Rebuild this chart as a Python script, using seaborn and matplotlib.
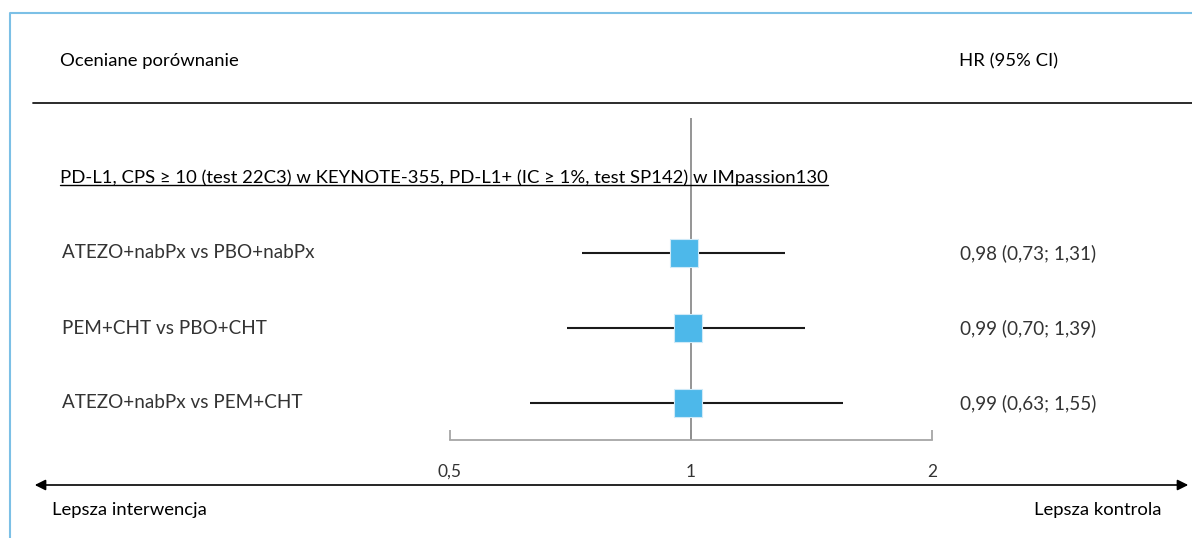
import matplotlib
matplotlib.use("Agg")
import matplotlib.pyplot as plt
import numpy as np
import pandas as pd
import seaborn as sns
from matplotlib.lines import Line2D
from matplotlib.patches import FancyArrowPatch
from matplotlib.ticker import FixedLocator, FixedFormatter, NullLocator

# data
comparisons = ["ATEZO+nabPx vs PBO+nabPx", "PEM+CHT vs PBO+CHT", "ATEZO+nabPx vs PEM+CHT"]
hr = [0.98, 0.99, 0.99]
ci_low = [0.73, 0.70, 0.63]
ci_high = [1.31, 1.39, 1.55]
subgroup = "PD-L1, CPS \u2265 10 (test 22C3) w KEYNOTE-355, PD-L1+ (IC \u2265 1%, test SP142) w IMpassion130"
ticks = [0.5, 1, 2]
tick_labels = ["0,5", "1", "2"]

df = pd.DataFrame({"comp": comparisons, "hr": hr, "lo": ci_low, "hi": ci_high})
df["row"] = np.arange(len(df))

sns.set_theme(style="white")
plt.rcParams["font.family"] = ["Lato", "DejaVu Sans"]

W, H = 1192, 538
fig = plt.figure(figsize=(W / 100, H / 100), dpi=100)

def fx(px):
    return px / W

def fy(py):
    return 1 - py / H

# forest axes: 0.5 -> 450px, 2 -> 932px, top 118px, bottom 440px
ax = fig.add_axes([fx(450), fy(440), (932 - 450) / W, (440 - 118) / H])
ax.set_xscale("log")
ax.set_xlim(0.5, 2)
ax.set_ylim(2 + 37 / 75, -135 / 75)

ax.axvline(1, color="#8c8c8c", lw=1.3, zorder=1)
ax.hlines(df["row"], df["lo"], df["hi"], color="#1a1a1a", lw=1.5, zorder=2)
sns.scatterplot(data=df, x="hr", y="row", marker="s", s=390, color="#4db8ea",
                edgecolor="#cfeaf8", linewidth=0.8, ax=ax, zorder=3, legend=False)

for s in ["top", "left", "right"]:
    ax.spines[s].set_visible(False)
ax.spines["bottom"].set_color("#a6a6a6")
ax.spines["bottom"].set_linewidth(1.3)
ax.xaxis.set_major_locator(FixedLocator(ticks))
ax.xaxis.set_major_formatter(FixedFormatter(tick_labels))
ax.xaxis.set_minor_locator(NullLocator())
ax.tick_params(axis="x", direction="in", length=7, width=1.3, color="#a6a6a6",
               pad=17, labelsize=12.5, labelcolor="#333333", bottom=True)
ax.set_yticks([])
ax.set_xlabel("")
ax.set_ylabel("")
ax.patch.set_alpha(0)

# texts
fs = 13.3
fs_row = 13.6
fig.text(fx(60), fy(61), "Oceniane porównanie", fontsize=fs, va="center", ha="left", color="black")
fig.text(fx(959), fy(61), "HR (95% CI)", fontsize=fs, va="center", ha="left", color="black")
sub = fig.text(fx(60), fy(178), subgroup, fontsize=fs, va="center", ha="left", color="black")

for i, r in df.iterrows():
    y = fy(253 + 75 * r["row"])
    fig.text(fx(62), y, r["comp"], fontsize=fs_row, va="center", ha="left", color="#333333")
    lab = f"{r['hr']:.2f} ({r['lo']:.2f}; {r['hi']:.2f})".replace(".", ",")
    fig.text(fx(960), y, lab, fontsize=fs_row, va="center", ha="left", color="#333333")

fig.text(fx(52), fy(510), "Lepsza interwencja", fontsize=fs, va="center", ha="left", color="black")
fig.text(fx(1161), fy(510), "Lepsza kontrola", fontsize=fs, va="center", ha="right", color="black")

# header rule
fig.add_artist(Line2D([fx(33), 1], [fy(103), fy(103)], color="#1a1a1a", lw=1.3))
# frame (left + top)
fig.add_artist(Line2D([fx(10), fx(10), 1], [0, fy(13), fy(13)], color="#7cc0e6", lw=1.5))
# arrow
fig.add_artist(FancyArrowPatch((fx(32), fy(485)), (fx(1191), fy(485)),
                               transform=fig.transFigure, arrowstyle="<|-|>",
                               mutation_scale=16, color="black", lw=1.2))

# underline of subgroup title
fig.canvas.draw()
bb = sub.get_window_extent(fig.canvas.get_renderer()).transformed(fig.transFigure.inverted())
fig.add_artist(Line2D([bb.x0, bb.x1], [bb.y0 + 0.002, bb.y0 + 0.002], color="black", lw=1.0))

fig.savefig("out.png", dpi=100)
